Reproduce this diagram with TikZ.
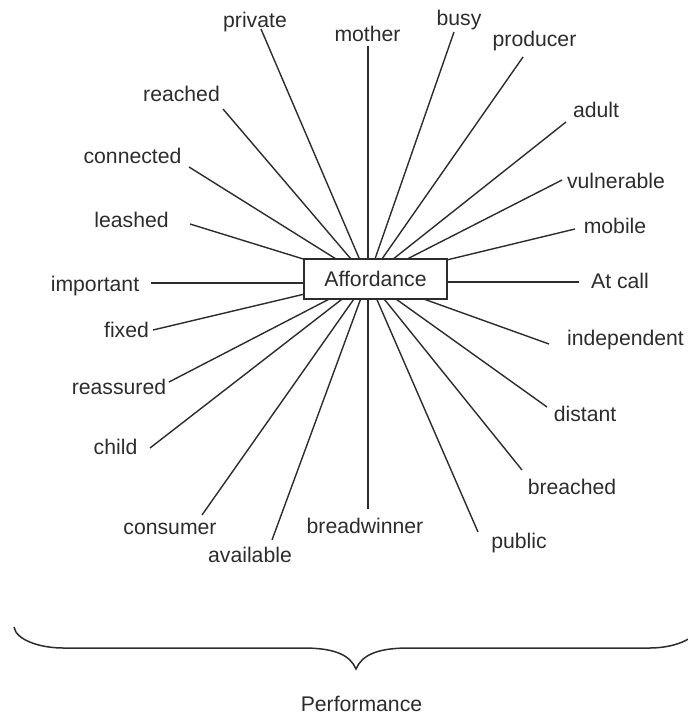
\documentclass[tikz,border=0pt]{standalone}
\usepackage{fontspec}
\setmainfont{Liberation Sans}
\definecolor{ink}{HTML}{2c2c2c}
\begin{document}
\begin{tikzpicture}[x=1pt,y=-1pt,
  lbl/.style={anchor=mid,inner sep=0pt,text=ink,font=\fontsize{21.2}{25}\selectfont,yshift=-3.5pt},
  spoke/.style={draw=ink,line width=1.4pt},
  boxnode/.style={draw=ink,line width=1.4pt,fill=white,minimum width=143pt,minimum height=40pt,inner sep=0pt,text=ink,font=\fontsize{21.2}{25}\selectfont}]
\useasboundingbox (0,0) rectangle (688,715);
\coordinate (c) at (368,279);
% labels
\node[lbl] (private) at (255,21) {private};
\node[lbl] (mother) at (367.5,35) {mother};
\node[lbl] (busy) at (459,19) {busy};
\node[lbl] (producer) at (534.5,40) {producer};
\node[lbl] (adult) at (596,111) {adult};
\node[lbl] (vulnerable) at (616,182) {vulnerable};
\node[lbl] (mobile) at (615,227) {mobile};
\node[lbl] (reached) at (181.5,95) {reached};
\node[lbl] (connected) at (132.5,157) {connected};
\node[lbl] (leashed) at (131.5,221) {leashed};
\node[lbl] (important) at (95,285) {important};
\node[lbl] (atcall) at (620,282) {At call};
\node[lbl] (fixed) at (126.5,331) {fixed};
\node[lbl] (reassured) at (119,388) {reassured};
\node[lbl] (child) at (115.5,448) {child};
\node[lbl] (independent) at (625.5,339) {independent};
\node[lbl] (distant) at (585,415) {distant};
\node[lbl] (breached) at (572,488) {breached};
\node[lbl] (consumer) at (170,528) {consumer};
\node[lbl] (available) at (250,556) {available};
\node[lbl] (breadwinner) at (365,527) {breadwinner};
\node[lbl] (public) at (519,542) {public};
\node[lbl] (performance) at (361.5,705) {Performance};
% spoke ends
\coordinate (ePrivate) at (261,29);
\coordinate (eMother) at (368,46);
\coordinate (eBusy) at (454,32);
\coordinate (eProducer) at (523,57);
\coordinate (eAdult) at (566,122);
\coordinate (eVulnerable) at (562,180);
\coordinate (eMobile) at (575,229);
\coordinate (eReached) at (223,109);
\coordinate (eConnected) at (189,167);
\coordinate (eLeashed) at (190,224);
\coordinate (eImportant) at (151,283);
\coordinate (eAtcall) at (579,282);
\coordinate (eFixed) at (153,330);
\coordinate (eReassured) at (169,382);
\coordinate (eChild) at (150,448);
\coordinate (eConsumer) at (202,515);
\coordinate (eAvailable) at (272,540);
\coordinate (eBreadwinner) at (368,509);
\coordinate (ePublic) at (478,532);
\coordinate (eBreached) at (522,470);
\coordinate (eDistant) at (547,407);
\coordinate (eIndependent) at (549,344);
\foreach \e in {Private,Mother,Busy,Producer,Adult,Vulnerable,Mobile,Reached,Connected,Leashed,Fixed,Reassured,Child,Consumer,Available,Breadwinner,Public,Breached,Distant,Independent}
  \draw[spoke] (c) -- (e\e);
% central box
\node[boxnode] (aff) at (375.5,279) {\raisebox{-1.5pt}{Affordance}};
\draw[spoke] (eImportant) -- (eImportant -| aff.west);
\draw[spoke] (eAtcall) -- (eAtcall -| aff.east);
% brace
\draw[draw=ink,line width=1.5pt] (14,627) .. controls (16,640) and (40,648) .. (63,648) -- (303,648)
  .. controls (335,648) and (350,655) .. (356,669)
  .. controls (362,655) and (377,648) .. (409,648) -- (650,648)
  .. controls (672,648) and (696,640) .. (698,627);
\end{tikzpicture}
\end{document}
